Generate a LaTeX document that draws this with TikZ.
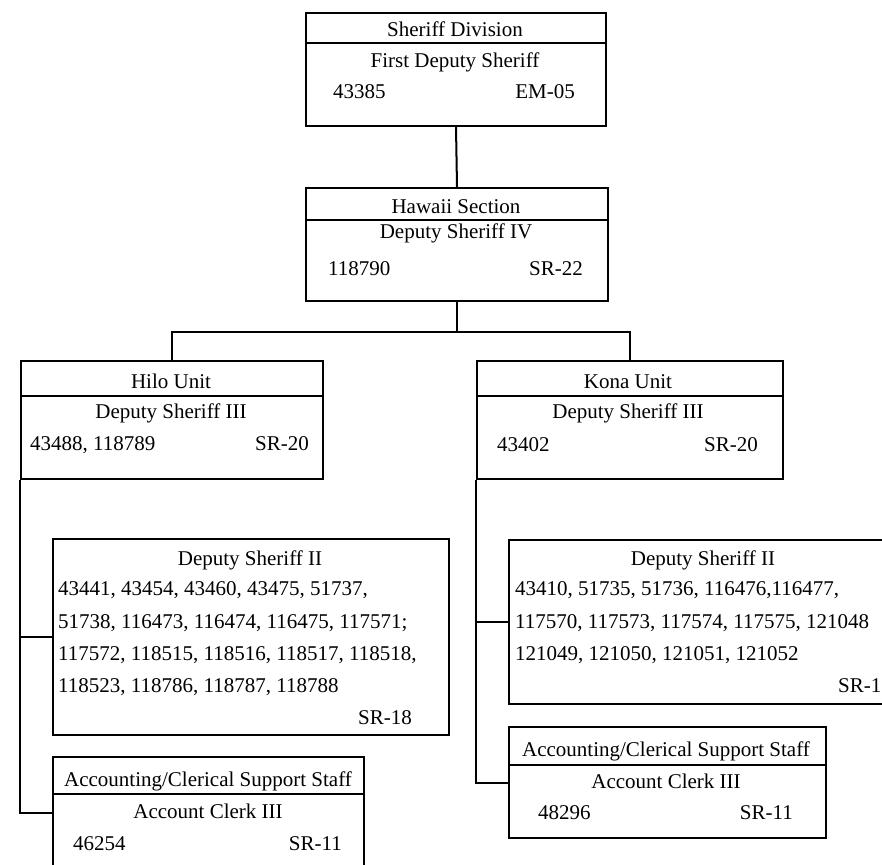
\documentclass[tikz,border=0pt]{standalone}
\usepackage{fontspec}
\setmainfont{Liberation Serif}
\begin{document}
\begin{tikzpicture}[x=1pt,y=-1pt,
  box/.style={draw,line width=2pt,inner sep=0pt,anchor=north west,rectangle},
  conn/.style={line width=2pt},
  divider/.style={line width=2pt},
  lbl/.style={font=\fontsize{21}{25}\selectfont,inner sep=0pt},
  ctr/.style={lbl,anchor=base},
  lft/.style={lbl,anchor=base west},
  rgt/.style={lbl,anchor=base east}]
\useasboundingbox (0,0) rectangle (882,864);
\clip (0,0) rectangle (882,864);
% boxes
\node[box,minimum width=300pt,minimum height=113pt] (sd) at (305,12) {};
\node[box,minimum width=302pt,minimum height=113pt] (hs) at (305,187) {};
\node[box,minimum width=302pt,minimum height=118pt] (hilo) at (20,360) {};
\node[box,minimum width=306pt,minimum height=118pt] (kona) at (476,360) {};
\node[box,minimum width=396pt,minimum height=196pt] (hds) at (52,538) {};
\node[box,minimum width=311pt,minimum height=112pt] (hacct) at (52,756) {};
\node[box,minimum width=420pt,minimum height=164pt] (kds) at (508,539) {};
\node[box,minimum width=317pt,minimum height=111pt] (kacct) at (508,726) {};
% dividers
\draw[divider] (305,43) -- (605,43);
\draw[divider] (305,220) -- (607,220);
\draw[divider] (20,396) -- (322,396);
\draw[divider] (476,396) -- (782,396);
\draw[divider] (52,794) -- (363,794);
\draw[divider] (508,765) -- (825,765);
% connectors
\draw[conn] (sd.south) -- (hs.north);
\draw[conn] (hs.south) -- ++(0,30) -| (hilo.north);
\draw[conn] (hs.south) -- ++(0,30) -| (kona.north);
\draw[conn] (hilo.south west) |- (hds.west);
\draw[conn] (hilo.south west) |- (hacct.west);
\draw[conn] (kona.south west) |- (kds.west);
\draw[conn] (kona.south west) |- (kacct.west);
% texts: Sheriff Division
\node[ctr] (t1) at (455,37) {Sheriff Division};
\node[ctr] (t2) at (455,68) {First Deputy Sheriff};
\node[lft] (t3) at (333,99) {43385};
\node[rgt] (t4) at (575,99) {EM-05};
% Hawaii Section
\node[ctr] (t5) at (456,213) {Hawaii Section};
\node[ctr] (t6) at (456,238) {Deputy Sheriff IV};
\node[lft] (t7) at (328,275) {118790};
\node[rgt] (t8) at (583,275) {SR-22};
% Hilo Unit
\node[ctr] (t9) at (171,388) {Hilo Unit};
\node[ctr] (t10) at (171,418) {Deputy Sheriff III};
\node[lft] (t11) at (30,450) {43488, 118789};
\node[rgt] (t12) at (309,450) {SR-20};
% Kona Unit
\node[ctr] (t13) at (628,388) {Kona Unit};
\node[ctr] (t14) at (628,418) {Deputy Sheriff III};
\node[lft] (t15) at (497,451) {43402};
\node[rgt] (t16) at (758,451) {SR-20};
% Hilo Deputy Sheriff II
\node[ctr] (t17) at (250,565) {Deputy Sheriff II};
\node[lft] (t18) at (58,595) {43441, 43454, 43460, 43475, 51737,};
\node[lft] (t19) at (58,628) {51738, 116473, 116474, 116475, 117571;};
\node[lft] (t20) at (58,660) {117572, 118515, 118516, 118517, 118518,};
\node[lft] (t21) at (58,692) {118523, 118786, 118787, 118788};
\node[rgt] (t22) at (412,724) {SR-18};
% Hilo clerk
\node[ctr] (t23) at (208,786) {Accounting/Clerical Support Staff};
\node[ctr] (t24) at (208,818) {Account Clerk III};
\node[lft] (t25) at (73,850) {46254};
\node[rgt] (t26) at (342,850) {SR-11};
% Kona Deputy Sheriff II
\node[ctr] (t27) at (703,565) {Deputy Sheriff II};
\node[lft] (t28) at (515,595) {43410, 51735, 51736, 116476,116477,};
\node[lft] (t29) at (515,628) {117570, 117573, 117574, 117575, 121048};
\node[lft] (t30) at (515,660) {121049, 121050, 121051, 121052};
\node[lft] (t31) at (838,692) {SR-18};
% Kona clerk
\node[ctr] (t32) at (666,756) {Accounting/Clerical Support Staff};
\node[ctr] (t33) at (666,788) {Account Clerk III};
\node[lft] (t34) at (538,819) {48296};
\node[rgt] (t35) at (793,819) {SR-11};
\end{tikzpicture}
\end{document}
